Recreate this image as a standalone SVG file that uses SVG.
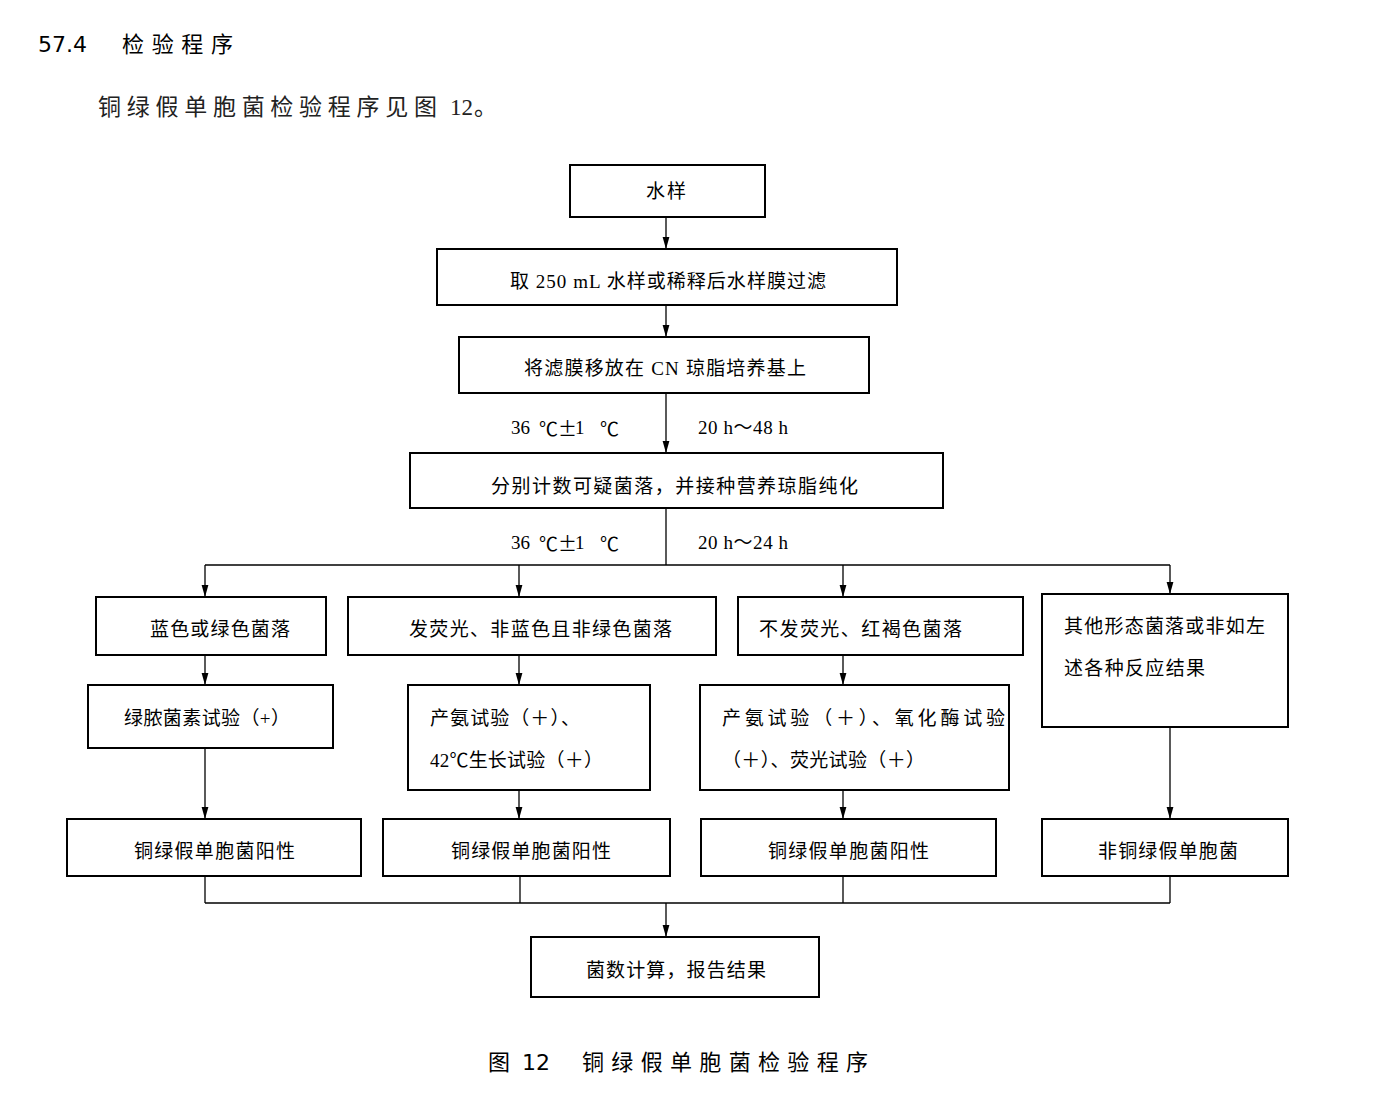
<svg xmlns="http://www.w3.org/2000/svg" width="1388" height="1105" viewBox="0 0 1388 1105">
<style>
.b{fill:#fff;stroke:#000;stroke-width:2}
.t{font-family:"Liberation Serif","Noto Sans CJK SC",serif;font-size:19px;fill:#000;dominant-baseline:central}
.k{font-family:"Noto Sans CJK SC",sans-serif}
.h{font-family:"DejaVu Sans","Noto Sans CJK SC",sans-serif;font-size:22px;fill:#000;dominant-baseline:central}
.p{font-family:"Liberation Serif","Noto Sans CJK SC",serif;font-size:23px;fill:#222;dominant-baseline:central}
.c{fill:none;stroke:#000;stroke-width:1.3}
</style>
<defs>
<marker id="a" viewBox="0 0 12 16" refX="12" refY="8" markerWidth="12" markerHeight="16" orient="auto" markerUnits="userSpaceOnUse">
<path d="M0,4.6 L12,8 L0,11.4 Z" fill="#000"/>
</marker>
</defs>
<rect width="1388" height="1105" fill="#fff"/>
<text class="h" x="38" y="44">57.4</text>
<text class="h" x="122" y="44" textLength="111" lengthAdjust="spacing">检验程序</text>
<text class="p" x="98" y="107" textLength="339" lengthAdjust="spacing">铜绿假单胞菌检验程序见图</text>
<text class="p" x="450" y="107">12</text>
<text class="p" x="474" y="107">。</text>
<text class="h" x="488" y="1062" font-size="24">图</text>
<text class="h" x="522" y="1062" font-size="24">12</text>
<text class="h" x="582" y="1062" font-size="24" textLength="286" lengthAdjust="spacing">铜绿假单胞菌检验程序</text>

<g id="connectors">
<line class="c" x1="666" y1="218" x2="666" y2="249" marker-end="url(#a)"/>
<line class="c" x1="666" y1="305" x2="666" y2="337" marker-end="url(#a)"/>
<line class="c" x1="666" y1="393" x2="666" y2="453" marker-end="url(#a)"/>
<line class="c" x1="666" y1="508" x2="666" y2="565"/>
<line class="c" x1="205" y1="565" x2="1170" y2="565"/>
<line class="c" x1="205" y1="565" x2="205" y2="597" marker-end="url(#a)"/>
<line class="c" x1="519" y1="565" x2="519" y2="597" marker-end="url(#a)"/>
<line class="c" x1="843" y1="565" x2="843" y2="597" marker-end="url(#a)"/>
<line class="c" x1="1170" y1="565" x2="1170" y2="594" marker-end="url(#a)"/>
<line class="c" x1="205" y1="655" x2="205" y2="685" marker-end="url(#a)"/>
<line class="c" x1="519" y1="655" x2="519" y2="685" marker-end="url(#a)"/>
<line class="c" x1="843" y1="655" x2="843" y2="685" marker-end="url(#a)"/>
<line class="c" x1="205" y1="748" x2="205" y2="819" marker-end="url(#a)"/>
<line class="c" x1="519" y1="790" x2="519" y2="819" marker-end="url(#a)"/>
<line class="c" x1="843" y1="790" x2="843" y2="819" marker-end="url(#a)"/>
<line class="c" x1="1170" y1="727" x2="1170" y2="819" marker-end="url(#a)"/>
<line class="c" x1="205" y1="876" x2="205" y2="903"/>
<line class="c" x1="520" y1="876" x2="520" y2="903"/>
<line class="c" x1="843" y1="876" x2="843" y2="903"/>
<line class="c" x1="1170" y1="876" x2="1170" y2="903"/>
<line class="c" x1="205" y1="903" x2="1170" y2="903"/>
<line class="c" x1="666" y1="903" x2="666" y2="937" marker-end="url(#a)"/>
<text class="t" y="427"><tspan x="511">36</tspan><tspan class="k" x="539">℃</tspan><tspan class="k" x="558">±</tspan><tspan x="575">1</tspan><tspan class="k" x="600">℃</tspan></text>
<text class="t" x="698" y="427" textLength="90" lengthAdjust="spacing">20 h～48 h</text>
<text class="t" y="542"><tspan x="511">36</tspan><tspan class="k" x="539">℃</tspan><tspan class="k" x="558">±</tspan><tspan x="575">1</tspan><tspan class="k" x="600">℃</tspan></text>
<text class="t" x="698" y="542" textLength="90" lengthAdjust="spacing">20 h～24 h</text>
</g>

<g id="n1"><rect class="b" x="570" y="165" width="195" height="52"/><text class="t" x="646" y="191" textLength="40" lengthAdjust="spacing">水样</text></g>
<g id="n2"><rect class="b" x="437" y="249" width="460" height="56"/><text class="t" x="510" y="281" textLength="316" lengthAdjust="spacing">取 250 mL 水样或稀释后水样膜过滤</text></g>
<g id="n3"><rect class="b" x="459" y="337" width="410" height="56"/><text class="t" x="524" y="368" textLength="282" lengthAdjust="spacing">将滤膜移放在 CN 琼脂培养基上</text></g>
<g id="n4"><rect class="b" x="410" y="453" width="533" height="55"/><text class="t" x="491" y="486" textLength="367" lengthAdjust="spacing">分别计数可疑菌落，并接种营养琼脂纯化</text></g>
<g id="n5"><rect class="b" x="96" y="597" width="230" height="58"/><text class="t" x="150" y="629" textLength="140" lengthAdjust="spacing">蓝色或绿色菌落</text></g>
<g id="n6"><rect class="b" x="348" y="597" width="368" height="58"/><text class="t" x="409" y="629" textLength="263" lengthAdjust="spacing">发荧光、非蓝色且非绿色菌落</text></g>
<g id="n7"><rect class="b" x="738" y="597" width="285" height="58"/><text class="t" x="759" y="629" textLength="203" lengthAdjust="spacing">不发荧光、红褐色菌落</text></g>
<g id="n8"><rect class="b" x="1042" y="594" width="246" height="133"/><text class="t" x="1064" y="626" textLength="201" lengthAdjust="spacing">其他形态菌落或非如左</text><text class="t" x="1064" y="668" textLength="141" lengthAdjust="spacing">述各种反应结果</text></g>
<g id="n9"><rect class="b" x="88" y="685" width="245" height="63"/><text class="t" x="124" y="718" textLength="166" lengthAdjust="spacing">绿脓菌素试验（+）</text></g>
<g id="n10"><rect class="b" x="408" y="685" width="242" height="105"/><text class="t" x="430" y="718" textLength="150" lengthAdjust="spacing">产氨试验（＋）、</text><text class="t" x="430" y="760" textLength="173" lengthAdjust="spacing">42℃生长试验（＋）</text></g>
<g id="n11"><rect class="b" x="700" y="685" width="309" height="105"/><text class="t" x="722" y="718" textLength="283" lengthAdjust="spacing">产氨试验（＋）、氧化酶试验</text><text class="t" x="722" y="760" textLength="203" lengthAdjust="spacing">（＋）、荧光试验（＋）</text></g>
<g id="n12"><rect class="b" x="67" y="819" width="294" height="57"/><text class="t" x="134" y="851" textLength="161" lengthAdjust="spacing">铜绿假单胞菌阳性</text></g>
<g id="n13"><rect class="b" x="383" y="819" width="287" height="57"/><text class="t" x="451" y="851" textLength="160" lengthAdjust="spacing">铜绿假单胞菌阳性</text></g>
<g id="n14"><rect class="b" x="701" y="819" width="295" height="57"/><text class="t" x="768" y="851" textLength="161" lengthAdjust="spacing">铜绿假单胞菌阳性</text></g>
<g id="n15"><rect class="b" x="1042" y="819" width="246" height="57"/><text class="t" x="1098" y="851" textLength="140" lengthAdjust="spacing">非铜绿假单胞菌</text></g>
<g id="n16"><rect class="b" x="531" y="937" width="288" height="60"/><text class="t" x="586" y="970" textLength="180" lengthAdjust="spacing">菌数计算，报告结果</text></g>
</svg>
